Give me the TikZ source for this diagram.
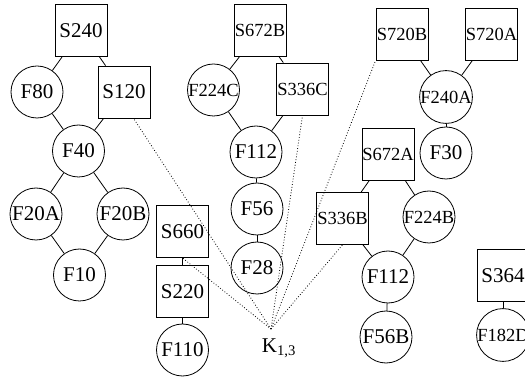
\documentclass[tikz,border=0pt]{standalone}
\usepackage{fontspec}
\setmainfont{Liberation Serif}
\usetikzlibrary{positioning, calc}

\begin{document}
\begin{tikzpicture}[x=1pt,y=-1pt,draw=black!100,line width=0.8pt]
 	\tikzstyle{s-node}=[rectangle,draw=black!100,inner sep=0pt,minimum size=52pt,font=\fontsize{21}{21}\selectfont]
 	\tikzstyle{f-node}=[circle,draw=black!100,inner sep=0pt,minimum size=52pt,font=\fontsize{21}{21}\selectfont]
 	\tikzstyle{long}=[font=\fontsize{18.5}{18.5}\selectfont]
 	\tikzstyle{k-edge}=[dotted,line width=0.8pt]
 	\useasboundingbox (0,0) rectangle (525,379);

 	% first group
 	\node[s-node] 	(s240)	at (81,30.5)	{S240};
 	\node[f-node] 	(f80)	at (37,92)	{F80};
 	\node[s-node] 	(s120)	at (124,92)	{S120};
 	\node[f-node] 	(f40)	at (78.5,151)	{F40};
 	\node[f-node] 	(f20a)	at (36,214)	{F20A};
 	\node[f-node] 	(f20b)	at (123,214)	{F20B};
 	\node[f-node] 	(f10)	at (79.5,275)	{F10};

 	\path (s240)	edge	(f80)
 		(s240)	edge	(s120)
 		(f80)	edge	(f40)
 		(s120)	edge	(f40)
 		(f40)	edge	(f20a)
 		(f40)	edge	(f20b)
 		(f20a)	edge	(f10)
 		(f20b)	edge	(f10);

 	% second group
 	\node[s-node] 	(s660)	at (182.5,231.5)	{S660};
 	\node[s-node] 	(s220)	at (182.5,291.5)	{S220};
 	\node[f-node] 	(f110)	at (182.5,350)	{F110};

 	\path (s660)	edge	(s220)
 		(s220)	edge	(f110);

 	% third group
 	\node[s-node,long] 	(s672b)	at (260,30.5)	{S672B};
 	\node[f-node,long] 	(f224c)	at (213.5,90)	{F224C};
 	\node[s-node,long] 	(s336c)	at (302.5,89)	{S336C};
 	\node[f-node] 	(f112c)	at (256,152)	{F112};
 	\node[f-node] 	(f56)	at (257,209)	{F56};
 	\node[f-node] 	(f28)	at (257,268)	{F28};

 	\path (s672b)	edge	(f224c)
 		(s672b)	edge	(s336c)
 		(f224c)	edge	(f112c)
 		(s336c)	edge	(f112c)
 		(f112c)	edge	(f56)
 		(f56)	edge	(f28);

 	% fourth group
 	\node[s-node,long] 	(s720b)	at (402,34)	{S720B};
 	\node[s-node,long] 	(s720a)	at (491.5,34)	{S720A};
 	\node[f-node,long] 	(f240a)	at (446,97)	{F240A};
 	\node[f-node] 	(f30)	at (446,153)	{F30};

 	\path (s720b)	edge	(f240a)
 		(s720a)	edge	(f240a)
 		(f240a)	edge	(f30);

 	% fifth group
 	\node[s-node,long] 	(s672a)	at (388,154)	{S672A};
 	\node[s-node,long] 	(s336b)	at (342.5,218.5)	{S336B};
 	\node[f-node,long] 	(f224b)	at (429,217)	{F224B};
 	\node[f-node] 	(f112b)	at (388,277)	{F112};
 	\node[f-node] 	(f56b)	at (386,337)	{F56B};

 	\path (s672a)	edge	(s336b)
 		(s672a)	edge	(f224b)
 		(s336b)	edge	(f112b)
 		(f224b)	edge	(f112b)
 		(f112b)	edge	(f56b);

 	% sixth group
 	\node[s-node] 	(s364)	at (503,275.5)	{S364};
 	\node[f-node,long] 	(f182d)	at (503,335)	{F182D};

 	\path (s364)	edge	(f182d);

 	% star
 	\coordinate (k) at (271,329);
 	\node[font=\fontsize{21}{21}\selectfont] (k-label) at (279,348) {K\textsubscript{1,3}};

 	\path[k-edge] (k)	edge	(s120.-70)
 		(k)	edge	(s660.south)
 		(k)	edge	(s336c.south)
 		(k)	edge	(s720b.south west)
 		(k)	edge	(s336b.south);
\end{tikzpicture}
\end{document}
